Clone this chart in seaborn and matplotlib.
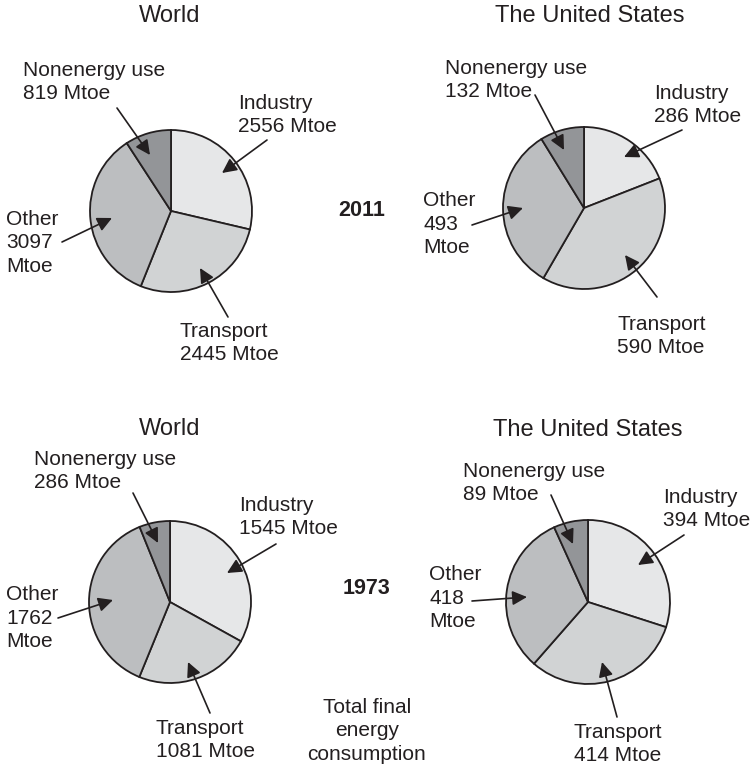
import matplotlib
matplotlib.use("Agg")
import matplotlib.pyplot as plt
import seaborn as sns

# ---------------- data ----------------
sectors = ["Industry", "Transport", "Other", "Nonenergy use"]
world_2011 = [2556, 2445, 3097, 819]
us_2011 = [286, 590, 493, 132]
world_1973 = [1545, 1081, 1762, 286]
us_1973 = [394, 414, 418, 89]
regions = ["World", "The United States"]
years = ["2011", "1973"]
unit = "Mtoe"
footnote = "Total final\nenergy\nconsumption"

# ---------------- style ----------------
sns.set_theme(style="white")
plt.rcParams["font.family"] = ["Liberation Sans", "DejaVu Sans"]
ink = "#231f20"
colors = ["#e6e7e8", "#d1d3d4", "#bcbec0", "#939598"]

W, H = 755, 768
fig = plt.figure(figsize=(W / 100, H / 100), dpi=100)
ax = fig.add_axes([0, 0, 1, 1])


def label_text(sector, value):
    if sector == "Other":
        return f"{sector}\n{value}\n{unit}"
    return f"{sector}\n{value} {unit}"


# layout per panel: center, radius, label anchors (left x, center y), arrow start, arrow tip
panels = [
    dict(values=world_2011, title=regions[0], title_xy=(170, 16), center=(171, 211), r=81,
         text={"Industry": (238, 115), "Transport": (180, 343), "Other": (6, 243), "Nonenergy use": (23, 82)},
         arrows={"Industry": ((267, 140), (222, 173)), "Transport": ((228, 317), (200, 268)),
                 "Other": ((62, 242), (112, 218)), "Nonenergy use": ((117, 108), (150, 155))}),
    dict(values=us_2011, title=regions[1], title_xy=(590, 16), center=(584, 208), r=81,
         text={"Industry": (654, 105), "Transport": (617, 336), "Other": (423, 224), "Nonenergy use": (445, 80)},
         arrows={"Industry": ((682, 130), (624, 157)), "Transport": ((657, 297), (625, 255)),
                 "Other": ((472, 225), (523, 208)), "Nonenergy use": ((535, 95), (564, 150))}),
    dict(values=world_1973, title=regions[0], title_xy=(170, 429), center=(170, 602), r=81,
         text={"Industry": (239, 517), "Transport": (156, 740), "Other": (6, 618), "Nonenergy use": (34, 471)},
         arrows={"Industry": ((276, 544), (227, 573)), "Transport": ((210, 713), (188, 662)),
                 "Other": ((58, 618), (113, 600)), "Nonenergy use": ((133, 493), (158, 543))}),
    dict(values=us_1973, title=regions[1], title_xy=(588, 430), center=(588, 602), r=82,
         text={"Industry": (663, 509), "Transport": (574, 744), "Other": (429, 598), "Nonenergy use": (463, 483)},
         arrows={"Industry": ((684, 535), (638, 565)), "Transport": ((617, 717), (602, 662)),
                 "Other": ((472, 601), (527, 597)), "Nonenergy use": ((551, 495), (573, 544))}),
]

for p in panels:
    # y axis is inverted later: startangle -90 = 12 o'clock, counterclock in data = clockwise on screen
    ax.pie(p["values"], colors=colors, startangle=-90, counterclock=True,
           center=p["center"], radius=p["r"],
           wedgeprops=dict(edgecolor=ink, linewidth=1.3))
    ax.text(*p["title_xy"], p["title"], ha="center", va="center", fontsize=17, color=ink)
    for sector, value in zip(sectors, p["values"]):
        tx, ty = p["text"][sector]
        ax.text(tx, ty, label_text(sector, value), ha="left", va="center",
                fontsize=15, color=ink, linespacing=1.28)
        start, tip = p["arrows"][sector]
        ax.annotate("", xy=tip, xytext=start,
                    arrowprops=dict(arrowstyle="-|>,head_length=0.55,head_width=0.27",
                                    mutation_scale=16, color=ink, lw=1.2,
                                    shrinkA=0, shrinkB=0))

ax.text(362, 211, years[0], ha="center", va="center", fontsize=15.5, fontweight="bold", color=ink)
ax.text(366, 588, years[1], ha="center", va="center", fontsize=15.5, fontweight="bold", color=ink)
ax.text(367, 731, footnote, ha="center", va="center", fontsize=15, color=ink, linespacing=1.28)

ax.set_xlim(0, W)
ax.set_ylim(H, 0)
ax.set_aspect("equal", adjustable="box")
ax.axis("off")

fig.savefig("out.png", dpi=100, facecolor="white")
